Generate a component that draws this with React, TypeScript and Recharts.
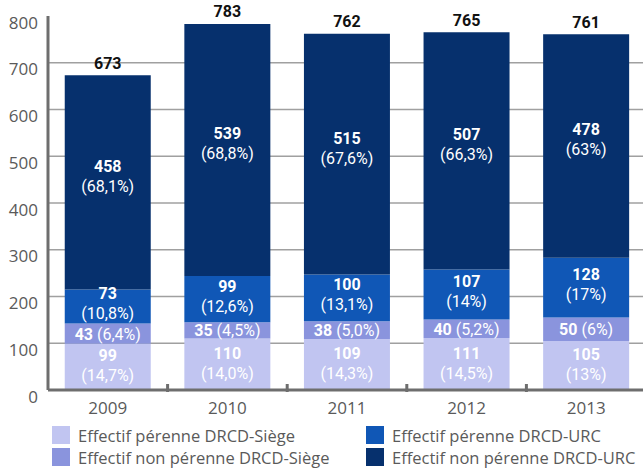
import { BarChart, Bar, XAxis, YAxis, CartesianGrid, Legend, LabelList } from 'recharts';

const years = ['2009', '2010', '2011', '2012', '2013'];
const perenneSiege = [99, 110, 109, 111, 105];
const nonPerenneSiege = [43, 35, 38, 40, 50];
const perenneUrc = [73, 99, 100, 107, 128];
const nonPerenneUrc = [458, 539, 515, 507, 478];
const totals = [673, 783, 762, 765, 761];
const pctPerenneSiege = ['(14,7%)', '(14,0%)', '(14,3%)', '(14,5%)', '(13%)'];
const pctNonPerenneSiege = ['(6,4%)', '(4,5%)', '(5,0%)', '(5,2%)', '(6%)'];
const pctPerenneUrc = ['(10,8%)', '(12,6%)', '(13,1%)', '(14%)', '(17%)'];
const pctNonPerenneUrc = ['(68,1%)', '(68,8%)', '(67,6%)', '(66,3%)', '(63%)'];
const yTicks = [0, 100, 200, 300, 400, 500, 600, 700, 800];
const gridValues = [100, 200, 300, 400, 500, 600, 700];

const seriesNames = [
  'Effectif pérenne DRCD-Siège',
  'Effectif non pérenne DRCD-Siège',
  'Effectif pérenne DRCD-URC',
  'Effectif non pérenne DRCD-URC',
];
const colors = ['#c1c5f1', '#8a94dd', '#1057b6', '#06306d'];

const data = years.map((year, i) => ({
  year,
  ps: perenneSiege[i],
  nps: nonPerenneSiege[i],
  pu: perenneUrc[i],
  npu: nonPerenneUrc[i],
}));

const labelFont = 'Roboto, "Liberation Sans", Arial, sans-serif';
const axisFont = '"Open Sans", "Noto Sans", sans-serif';

function twoLine(pcts: string[], shift: number) {
  return (props: any) => {
    const { x, y, width, height, index, value } = props;
    const cx = x + width / 2;
    const cy = y + height / 2 + shift;
    return (
      <g>
        <text x={cx} y={cy - 10} textAnchor="middle" dominantBaseline="central" fill="#fff"
          fontFamily={labelFont} fontSize={16} fontWeight="bold">{value}</text>
        <text x={cx} y={cy + 10} textAnchor="middle" dominantBaseline="central" fill="#fff"
          fontFamily={labelFont} fontSize={16}>{pcts[index]}</text>
      </g>
    );
  };
}

function oneLine(pcts: string[]) {
  return (props: any) => {
    const { x, y, width, height, index, value } = props;
    return (
      <text x={x + width / 2} y={y + height / 2} textAnchor="middle" dominantBaseline="central"
        fill="#fff" fontFamily={labelFont} fontSize={16}>
        <tspan fontWeight="bold">{value}</tspan>
        <tspan> {pcts[index]}</tspan>
      </text>
    );
  };
}

const totalLabel = (props: any) => {
  const { x, y, width, index } = props;
  return (
    <text x={x + width / 2} y={y - 12} textAnchor="middle" dominantBaseline="central"
      fill="#111" fontFamily={labelFont} fontSize={16} fontWeight="bold">{totals[index]}</text>
  );
};

const YTick = (props: any) => {
  const { x, y, payload } = props;
  return (
    <text x={x} y={y + 6} textAnchor="end" dominantBaseline="central" fill="#5a5a5a"
      fontFamily={axisFont} fontSize={17}>{payload.value}</text>
  );
};

// year label plus the short upward mark on the boundary to the right of the group
const XTick = (props: any) => {
  const { x, y, payload, index, width, visibleTicksCount } = props;
  const band = width && visibleTicksCount ? width / visibleTicksCount : 119.6;
  const bx = x + band / 2;
  return (
    <g>
      <text x={x} y={y + 15} textAnchor="middle" dominantBaseline="central" fill="#5a5a5a"
        fontFamily={axisFont} fontSize={17}>{payload.value}</text>
      {index < years.length - 1 && (
        <line x1={bx} x2={bx} y1={y - 8} y2={y} stroke="#6e6e6e" strokeWidth={3} />
      )}
    </g>
  );
};

const legendOrder = [0, 2, 1, 3];

const renderLegend = () => (
  <div style={{ display: 'grid', gridTemplateColumns: '314px auto', rowGap: 4 }}>
    {legendOrder.map((i) => (
      <div key={i} style={{ display: 'flex', alignItems: 'center', height: 18 }}>
        <span style={{ width: 18, height: 18, background: colors[i], marginRight: 8, flexShrink: 0 }} />
        <span style={{ fontFamily: axisFont, fontSize: 16.5, color: '#5a5a5a', whiteSpace: 'nowrap' }}>
          {seriesNames[i]}
        </span>
      </div>
    ))}
  </div>
);

export default function App() {
  return (
    <div style={{ position: 'absolute', left: 0, top: 0, width: 643, height: 468, overflow: 'hidden', background: '#fff' }}>
      <BarChart width={646} height={468} data={data}
        margin={{ top: 16, right: 0, bottom: 48, left: 0 }} barCategoryGap="14%">
        <CartesianGrid vertical={false} stroke="#a0a0a0" strokeWidth={1.5}
          horizontalValues={gridValues} />
        <XAxis dataKey="year" height={30} axisLine={{ stroke: '#6e6e6e', strokeWidth: 3 }}
          tickLine={false} tickSize={0} tick={<XTick />} interval={0} />
        <YAxis width={48} domain={[0, 800]} ticks={yTicks} tickSize={0} tickMargin={10}
          axisLine={{ stroke: '#6e6e6e', strokeWidth: 3 }} tickLine={false} tick={<YTick />} />
        <Legend layout="vertical" align="center" verticalAlign="middle" content={renderLegend}
          wrapperStyle={{ position: 'absolute', left: 52, top: 426, width: 591 }} />
        <Bar dataKey="ps" stackId="a" fill={colors[0]} name={seriesNames[0]} isAnimationActive={false}>
          <LabelList dataKey="ps" content={twoLine(pctPerenneSiege, -1)} />
        </Bar>
        <Bar dataKey="nps" stackId="a" fill={colors[1]} name={seriesNames[1]} isAnimationActive={false}>
          <LabelList dataKey="nps" content={oneLine(pctNonPerenneSiege)} />
        </Bar>
        <Bar dataKey="pu" stackId="a" fill={colors[2]} name={seriesNames[2]} isAnimationActive={false}>
          <LabelList dataKey="pu" content={twoLine(pctPerenneUrc, -3)} />
        </Bar>
        <Bar dataKey="npu" stackId="a" fill={colors[3]} name={seriesNames[3]} isAnimationActive={false}>
          <LabelList dataKey="npu" content={twoLine(pctNonPerenneUrc, -6)} />
          <LabelList dataKey="npu" content={totalLabel} />
        </Bar>
      </BarChart>
    </div>
  );
}
